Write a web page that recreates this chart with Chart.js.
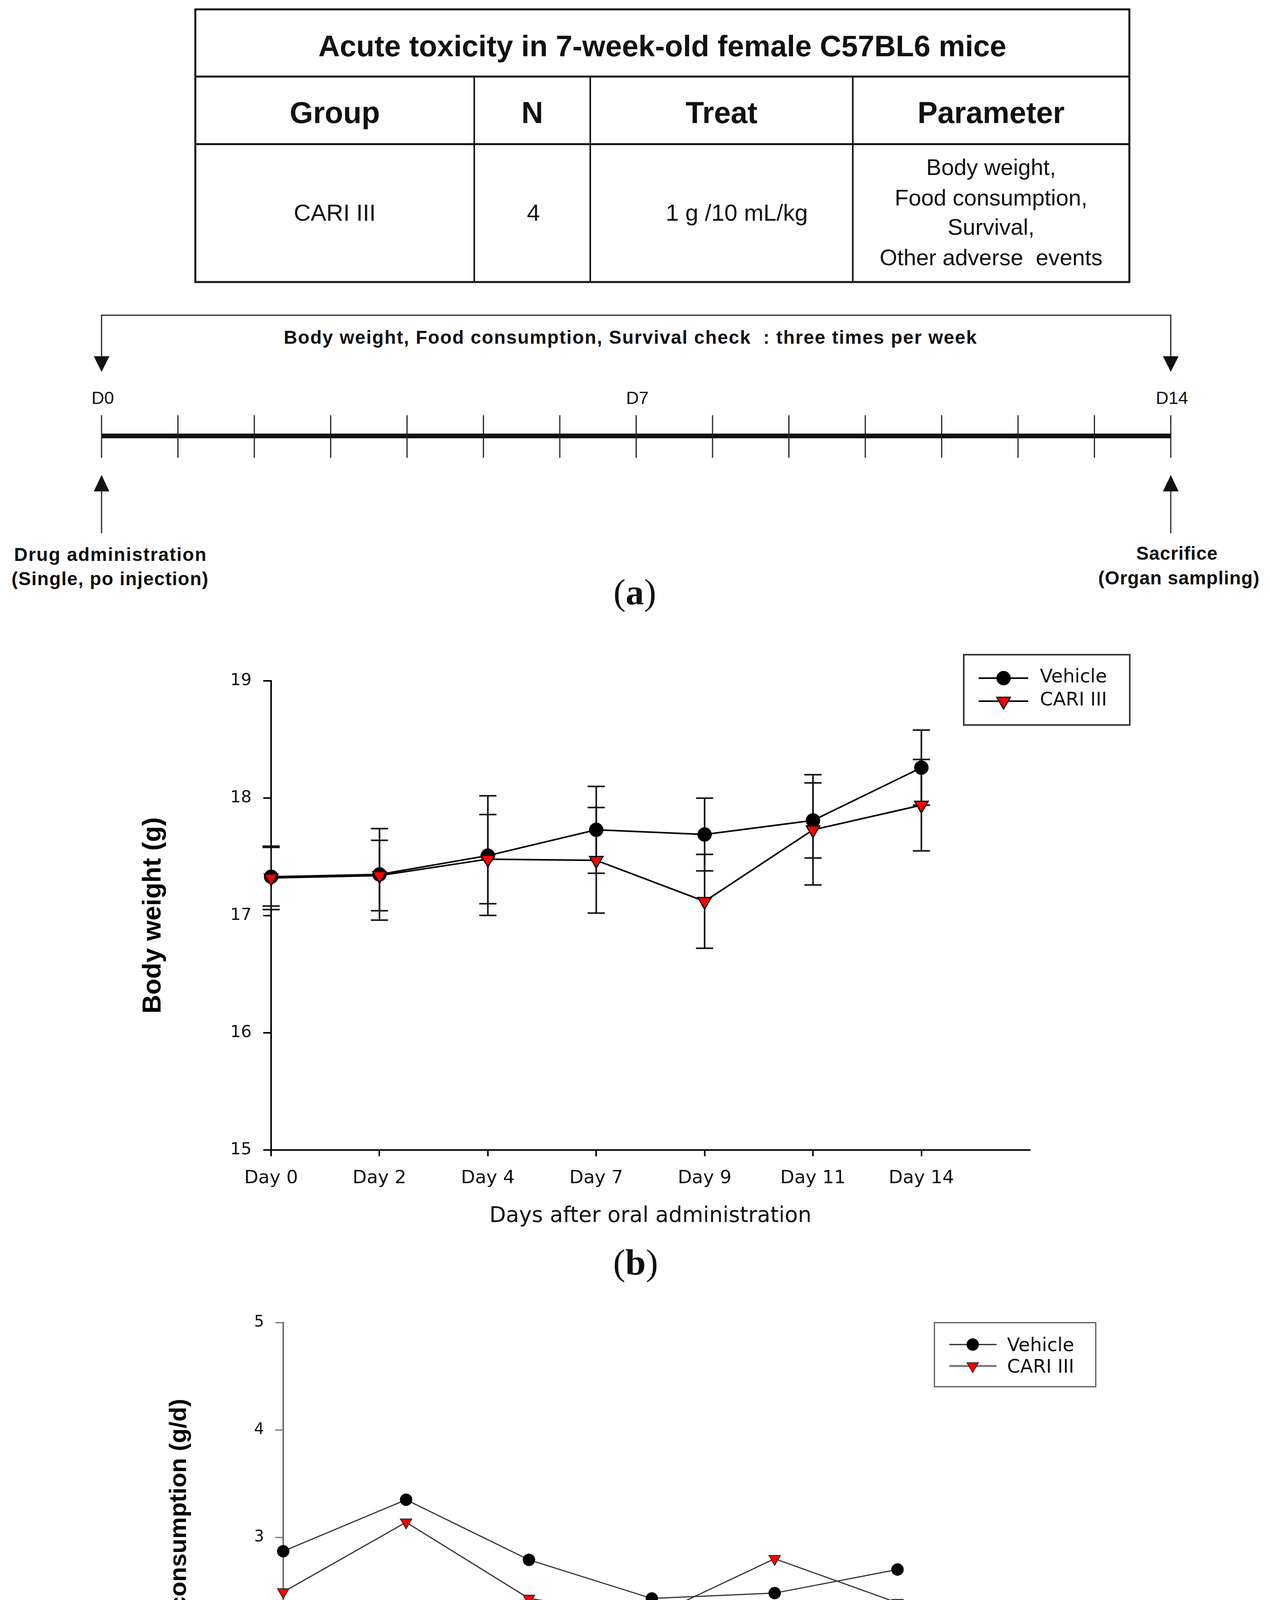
<!DOCTYPE html>
<html>
<head>
<meta charset="utf-8">
<script src="https://cdn.jsdelivr.net/npm/chart.js@4.4.1/dist/chart.umd.min.js"></script>
<style>
html,body{margin:0;padding:0;background:#fff;}
#page{position:relative;width:3251px;height:4806px;overflow:hidden;background:#fff;}
#diagram{position:absolute;left:0;top:0;}
canvas{position:absolute;}
#bw{left:300px;top:1600px;}
#fc{left:300px;top:3250px;}
</style>
</head>
<body>
<div id="page">
<svg id="diagram" width="3251" height="4806" xmlns="http://www.w3.org/2000/svg"></svg>
<canvas id="bw" width="2700" height="1600"></canvas>
<canvas id="fc" width="2700" height="1450"></canvas>
</div>
<script>
// ---------------- data ----------------
const tableTitle = 'Acute toxicity in 7-week-old female C57BL6 mice';
const tableHeaders = ['Group', 'N', 'Treat', 'Parameter'];
const tableRow = ['CARI III', '4', '1 g /10 mL/kg'];
const parameterLines = ['Body weight,', 'Food consumption,', 'Survival,', 'Other adverse  events'];
const scheduleText = 'Body weight, Food consumption, Survival check  : three times per week';
const timelineDays = [0,1,2,3,4,5,6,7,8,9,10,11,12,13,14];
const timelineLabelDays = [0, 7, 14];
const startNote = ['Drug administration', '(Single, po injection)'];
const endNote = ['Sacrifice', '(Organ sampling)'];
const panelLetters = ['a', 'b', 'c'];

const bwDays = ['Day 0', 'Day 2', 'Day 4', 'Day 7', 'Day 9', 'Day 11', 'Day 14'];
const bwVehicle = [17.33, 17.35, 17.51, 17.73, 17.69, 17.81, 18.26];
const bwVehicleErr = [0.25, 0.39, 0.51, 0.37, 0.31, 0.32, 0.32];
const bwCari = [17.32, 17.34, 17.48, 17.47, 17.12, 17.73, 17.94];
const bwCariErr = [0.27, 0.30, 0.38, 0.45, 0.40, 0.47, 0.39];
const bwTicks = [15, 16, 17, 18, 19];

const fcDays = ['Day 2', 'Day 4', 'Day 7', 'Day 9', 'Day 11', 'Day 14'];
const fcVehicle = [2.87, 3.35, 2.79, 2.43, 2.48, 2.70];
const fcCari = [2.49, 3.14, 2.43, 2.26, 2.80, 2.39];
const fcTicks = [1, 2, 3, 4, 5];

// ---------------- diagram (a) ----------------
const NS = 'http://www.w3.org/2000/svg';
const svg = document.getElementById('diagram');
function el(tag, attrs, text) {
  const e = document.createElementNS(NS, tag);
  for (const k in attrs) e.setAttribute(k, attrs[k]);
  if (text !== undefined) e.textContent = text;
  svg.appendChild(e);
  return e;
}
const SANS = 'Liberation Sans, Arial, Helvetica, sans-serif';
function txt(x, y, s, size, bold, extra) {
  const a = {x: x, y: y, 'text-anchor': 'middle', 'font-family': SANS, 'font-size': size,
    'font-weight': bold ? 'bold' : 'normal', fill: '#111', style: 'white-space:pre'};
  Object.assign(a, extra || {});
  return el('text', a, s);
}

// table
const colX = [500, 1214, 1511, 2183, 2891];
const rowY = [24, 196, 369, 722];
el('rect', {x: colX[0], y: rowY[0], width: colX[4] - colX[0], height: rowY[3] - rowY[0], fill: 'none', stroke: '#111', 'stroke-width': 5});
[rowY[1], rowY[2]].forEach(y => el('line', {x1: colX[0], y1: y, x2: colX[4], y2: y, stroke: '#111', 'stroke-width': 5}));
[colX[1], colX[2], colX[3]].forEach(x => el('line', {x1: x, y1: rowY[1], x2: x, y2: rowY[3], stroke: '#111', 'stroke-width': 4}));
txt((colX[0] + colX[4]) / 2, 144, tableTitle, 76, true);
tableHeaders.forEach((h, i) => txt((colX[i] + colX[i + 1]) / 2, 315, h, 77, true));
const rowShift = [0, 3, 39];
tableRow.forEach((s, i) => txt((colX[i] + colX[i + 1]) / 2 + rowShift[i], 565, s, 60, false));
const paramBase = [448, 526, 601, 679];
parameterLines.forEach((s, i) => txt((colX[3] + colX[4]) / 2, paramBase[i], s, 58, false));

// timeline
const tlX0 = 260, tlStep = 195.5;
const dayX = d => tlX0 + d * tlStep;
const xEnd = dayX(timelineDays[timelineDays.length - 1]);
el('polyline', {points: `${tlX0},916 ${tlX0},807 ${xEnd},807 ${xEnd},916`, fill: 'none', stroke: '#222', 'stroke-width': 3});
[tlX0, xEnd].forEach(x => el('polygon', {points: `${x - 20},912 ${x + 20},912 ${x},952`, fill: '#111'}));
txt(1614, 880, scheduleText, 48, true, {'letter-spacing': 2});
el('line', {x1: tlX0, y1: 1116, x2: xEnd, y2: 1116, stroke: '#111', 'stroke-width': 12});
timelineDays.forEach(d => el('line', {x1: dayX(d), y1: 1063, x2: dayX(d), y2: 1172, stroke: '#222', 'stroke-width': 3}));
timelineLabelDays.forEach(d => txt(dayX(d) + 3, 1034, 'D' + d, 45, false));
[tlX0, xEnd].forEach(x => {
  el('polygon', {points: `${x - 20},1258 ${x + 20},1258 ${x},1216`, fill: '#111'});
  el('line', {x1: x, y1: 1254, x2: x, y2: 1365, stroke: '#222', 'stroke-width': 3});
});
txt(283, 1436, startNote[0], 48, true, {'letter-spacing': 2});
txt(282, 1498, startNote[1], 48, true, {'letter-spacing': 1.5});
txt(3013, 1433, endNote[0], 48, true, {'letter-spacing': 1});
txt(3018, 1496, endNote[1], 48, true, {'letter-spacing': 1});

// panel labels
const panelPos = [[1625, 1547], [1627, 3263], [1626, 4779]];
panelLetters.forEach((l, i) => {
  const t = el('text', {x: panelPos[i][0], y: panelPos[i][1], 'text-anchor': 'middle',
    'font-family': 'Liberation Serif, Times New Roman, serif', 'font-size': 94, fill: '#111'});
  const a = document.createElementNS(NS, 'tspan'); a.textContent = '('; t.appendChild(a);
  const b = document.createElementNS(NS, 'tspan'); b.setAttribute('font-weight', 'bold'); b.textContent = l; t.appendChild(b);
  const c = document.createElementNS(NS, 'tspan'); c.textContent = ')'; t.appendChild(c);
});

// ---------------- Chart.js plugins ----------------
const errorBars = {
  id: 'errorBars',
  beforeDatasetsDraw(chart, args, o) {
    const ctx = chart.ctx, y = chart.scales.y;
    ctx.save();
    ctx.strokeStyle = o.color; ctx.lineWidth = o.width;
    chart.data.datasets.forEach((ds, di) => {
      if (!ds.errors) return;
      const meta = chart.getDatasetMeta(di);
      ds.data.forEach((p, i) => {
        const px = meta.data[i].x, e = ds.errors[i];
        const t = y.getPixelForValue(p.y + e), b = y.getPixelForValue(p.y - e);
        ctx.beginPath();
        ctx.moveTo(px, t); ctx.lineTo(px, b);
        ctx.moveTo(px - o.cap, t); ctx.lineTo(px + o.cap, t);
        ctx.moveTo(px - o.cap, b); ctx.lineTo(px + o.cap, b);
        ctx.stroke();
      });
    });
    ctx.restore();
  }
};

function drawMarker(ctx, ds, x, y) {
  ctx.save();
  ctx.fillStyle = ds.pointBackgroundColor;
  ctx.strokeStyle = ds.pointBorderColor;
  ctx.lineWidth = ds.pointBorderWidth;
  const r = ds.pointRadius;
  ctx.beginPath();
  if (ds.pointStyle === 'triangle') {
    const h = Math.sin(Math.PI / 3) * r;
    ctx.moveTo(x, y + r); ctx.lineTo(x - h, y - r / 2); ctx.lineTo(x + h, y - r / 2); ctx.closePath();
  } else {
    ctx.arc(x, y, r, 0, Math.PI * 2);
  }
  ctx.fill(); ctx.stroke();
  ctx.restore();
}

const boxLegend = {
  id: 'boxLegend',
  afterDraw(chart, args, o) {
    const ctx = chart.ctx;
    ctx.save();
    ctx.lineWidth = o.boxWidth; ctx.strokeStyle = o.boxColor;
    ctx.strokeRect(o.x, o.y, o.w, o.h);
    chart.data.datasets.forEach((ds, i) => {
      const ry = o.rows[i];
      ctx.beginPath();
      ctx.strokeStyle = o.lineColors ? o.lineColors[i] : ds.borderColor;
      ctx.lineWidth = o.lineWidths ? o.lineWidths[i] : ds.borderWidth;
      ctx.moveTo(o.lineX0, ry); ctx.lineTo(o.lineX1, ry); ctx.stroke();
      drawMarker(ctx, ds, o.markerX, ry);
      ctx.fillStyle = '#111';
      ctx.font = o.font;
      ctx.textBaseline = 'alphabetic'; ctx.textAlign = 'left';
      ctx.fillText(ds.label, o.textX, ry + o.textDy);
    });
    ctx.restore();
  }
};

const DJ = "'DejaVu Sans', sans-serif";
const LS = "'Liberation Sans', Arial, sans-serif";

function axisCommon(color, width) {
  return {
    grid: {drawOnChartArea: false, drawTicks: true, lineWidth: width, tickWidth: width, tickColor: color, color: color},
    border: {display: true, color: color, width: width}
  };
}

// ---------------- chart (b) body weight ----------------
const bwX = axisCommon('#000', 4);
const bwY = axisCommon('#000', 4);
new Chart(document.getElementById('bw'), {
  type: 'line',
  data: {
    datasets: [
      {label: 'Vehicle', data: bwVehicle.map((v, i) => ({x: i, y: v})), errors: bwVehicleErr,
        borderColor: '#000', borderWidth: 4, tension: 0, clip: false, order: 1,
        pointStyle: 'circle', pointRadius: 18, pointBackgroundColor: '#000', pointBorderColor: '#000', pointBorderWidth: 1},
      {label: 'CARI III', data: bwCari.map((v, i) => ({x: i, y: v})), errors: bwCariErr,
        borderColor: '#000', borderWidth: 4, tension: 0, clip: false, order: 0,
        pointStyle: 'triangle', pointRotation: 180, pointRadius: 20, pointBackgroundColor: '#ff0000', pointBorderColor: '#000', pointBorderWidth: 3}
    ]
  },
  options: {
    responsive: false, animation: false, devicePixelRatio: 1,
    layout: {padding: {top: 143, right: 364, bottom: 0, left: 0}},
    plugins: {
      legend: {display: false}, tooltip: {enabled: false},
      errorBars: {color: '#111', width: 4, cap: 22},
      boxLegend: {x: 2167, y: 76, w: 425, h: 180, boxWidth: 4, boxColor: '#333', rows: [136, 195],
        lineX0: 2205, lineX1: 2332, markerX: 2269, textX: 2362, textDy: 11, font: `48px ${DJ}`}
    },
    scales: {
      x: {type: 'linear', min: 0, max: 7,
        afterBuildTicks: s => { s.ticks = bwDays.map((_, i) => ({value: i})); },
        afterFit: s => { s.height = 256; },
        ticks: {callback: v => bwDays[v], font: {family: DJ, size: 47, lineHeight: 1}, color: '#111', padding: 33, maxRotation: 0, autoSkip: false},
        grid: Object.assign({}, bwX.grid, {tickLength: 16}), border: bwX.border,
        title: {display: true, text: 'Days after oral administration', color: '#111',
          font: {family: DJ, size: 55, lineHeight: 1}, padding: {top: 0, bottom: 59}}},
      y: {type: 'linear', min: 15, max: 19,
        afterBuildTicks: s => { s.ticks = bwTicks.map(v => ({value: v})); },
        afterFit: s => { s.width = 394; },
        ticks: {font: {family: DJ, size: 43, lineHeight: 1}, color: '#111', padding: 30},
        grid: Object.assign({}, bwY.grid, {tickLength: 20}), border: bwY.border,
        title: {display: true, text: 'Body weight (g)', color: '#000',
          font: {family: LS, size: 67, weight: 'bold', lineHeight: 1}, padding: {top: 59, bottom: 0}}}
    }
  },
  plugins: [errorBars, boxLegend]
});

// ---------------- chart (c) food consumption ----------------
const fcAx = axisCommon('#6e6e6e', 4);
new Chart(document.getElementById('fc'), {
  type: 'line',
  data: {
    datasets: [
      {label: 'Vehicle', data: fcVehicle.map((v, i) => ({x: i, y: v})),
        borderColor: '#333', borderWidth: 3, tension: 0, clip: false, order: 1,
        pointStyle: 'circle', pointRadius: 15.5, pointBackgroundColor: '#000', pointBorderColor: '#000', pointBorderWidth: 1},
      {label: 'CARI III', data: fcCari.map((v, i) => ({x: i, y: v})),
        borderColor: '#333', borderWidth: 3, tension: 0, clip: false, order: 0,
        pointStyle: 'triangle', pointRotation: 180, pointRadius: 17, pointBackgroundColor: '#ff0000', pointBorderColor: '#222', pointBorderWidth: 2}
    ]
  },
  options: {
    responsive: false, animation: false, devicePixelRatio: 1,
    layout: {padding: {top: 136, right: 388, bottom: 0, left: 0}},
    plugins: {
      legend: {display: false}, tooltip: {enabled: false},
      boxLegend: {x: 2092, y: 136, w: 413, h: 164, boxWidth: 3, boxColor: '#555', rows: [192, 247],
        lineX0: 2130, lineX1: 2251, markerX: 2190, textX: 2278, textDy: 17, font: `48px ${DJ}`,
        lineColors: ['#222', '#777'], lineWidths: [3, 5]}
    },
    scales: {
      x: {type: 'linear', min: 0, max: 6,
        afterBuildTicks: s => { s.ticks = fcDays.map((_, i) => ({value: i})); },
        afterFit: s => { s.height = 215; },
        ticks: {callback: v => fcDays[v], font: {family: DJ, size: 44, lineHeight: 1}, color: '#111', padding: 25, maxRotation: 0, autoSkip: false},
        grid: Object.assign({}, fcAx.grid, {tickLength: 15, tickWidth: 3}), border: fcAx.border,
        title: {display: true, text: 'Days after oral administration', color: '#111',
          font: {family: DJ, size: 55, lineHeight: 1}, padding: {top: 0, bottom: 42}}},
      y: {type: 'linear', min: 1, max: 5,
        afterBuildTicks: s => { s.ticks = fcTicks.map(v => ({value: v})); },
        afterFit: s => { s.width = 425; },
        ticks: {font: {family: DJ, size: 40, lineHeight: 1}, color: '#111', padding: 29},
        grid: Object.assign({}, fcAx.grid, {tickLength: 20, tickWidth: 3}), border: fcAx.border,
        title: {display: true, text: 'Food consumption (g/d)', color: '#000',
          font: {family: LS, size: 62, weight: 'bold', lineHeight: 1}, padding: {top: 128, bottom: 0}}}
    }
  },
  plugins: [boxLegend]
});
</script>
</body>
</html>
